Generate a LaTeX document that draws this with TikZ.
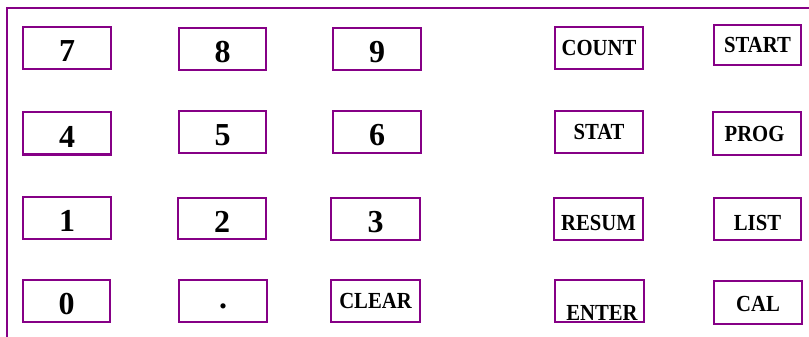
\documentclass[tikz,border=0pt]{standalone}
\usepackage{fontspec}
\setmainfont{Liberation Serif}
\definecolor{keypurple}{RGB}{134,0,134}
\newcommand{\kw}[1]{\scalebox{0.9}[1]{#1}}
\tikzset{
  key/.style={draw=keypurple, line width=2.4pt, inner sep=0pt, text depth=0pt,
    minimum width=88pt, minimum height=42pt, text=black},
  digit/.style={key, font=\fontsize{32}{32}\selectfont\bfseries, text height=27.6pt},
  word/.style={key, font=\fontsize{23}{23}\selectfont\bfseries},
  frameline/.style={draw=keypurple, line width=2.4pt},
}
\begin{document}
\begin{tikzpicture}[x=1pt,y=-1pt]
\useasboundingbox (0,0) rectangle (809,337);
\begin{scope}
  \clip (0,0) rectangle (809,337);
  \draw[frameline] (7,345) -- (7,8) -- (815,8);
\end{scope}
% row 1
\node[digit] (k7) at (67,48) {7};
\node[digit, minimum width=87pt] (k8) at (222.5,49) {8};
\node[digit] (k9) at (377,49) {9};
\node[word, text height=15.2pt] (kcount) at (599,48) {\kw{COUNT}};
\node[word, text height=15pt, minimum width=87pt, minimum height=40pt] (kstart) at (757.5,45) {\kw{START}};
% row 2
\node[digit, minimum height=42.7pt] (k4) at (67,133.3) {4};
\node[digit, minimum width=87pt] (k5) at (222.5,132) {5};
\node[digit] (k6) at (377,132) {6};
\node[word, text height=15pt] (kstat) at (599,132) {\kw{STAT}};
\node[word, text height=15.6pt, minimum height=43pt] (kprog) at (757,133.5) {\kw{PROG}\kern5pt};
% row 3
\node[digit] (k1) at (67,218) {1};
\node[digit, minimum height=41pt] (k2) at (222,218.5) {2};
\node[digit, minimum width=89pt] (k3) at (375.5,219) {3};
\node[word, text height=22.8pt, minimum width=89pt] (kresum) at (598.5,219) {\kw{RESUM}};
\node[word, text height=22.8pt, minimum width=87pt] (klist) at (757.5,219) {\kw{LIST}};
% row 4
\node[digit, minimum width=87pt] (k0) at (66.5,301) {0};
\node[digit, text height=14pt] (kdot) at (223,301) {.};
\node[word, text height=14.2pt, minimum width=89pt] (kclear) at (375.5,301) {\kw{CLEAR}};
\node[word, text height=39.8pt, minimum width=89pt] (kenter) at (599.5,301) {\kern5pt\kw{ENTER}};
\node[word, text height=17.2pt, minimum height=43pt] (kcal) at (758,302.5) {\kw{CAL}};
\end{tikzpicture}
\end{document}
